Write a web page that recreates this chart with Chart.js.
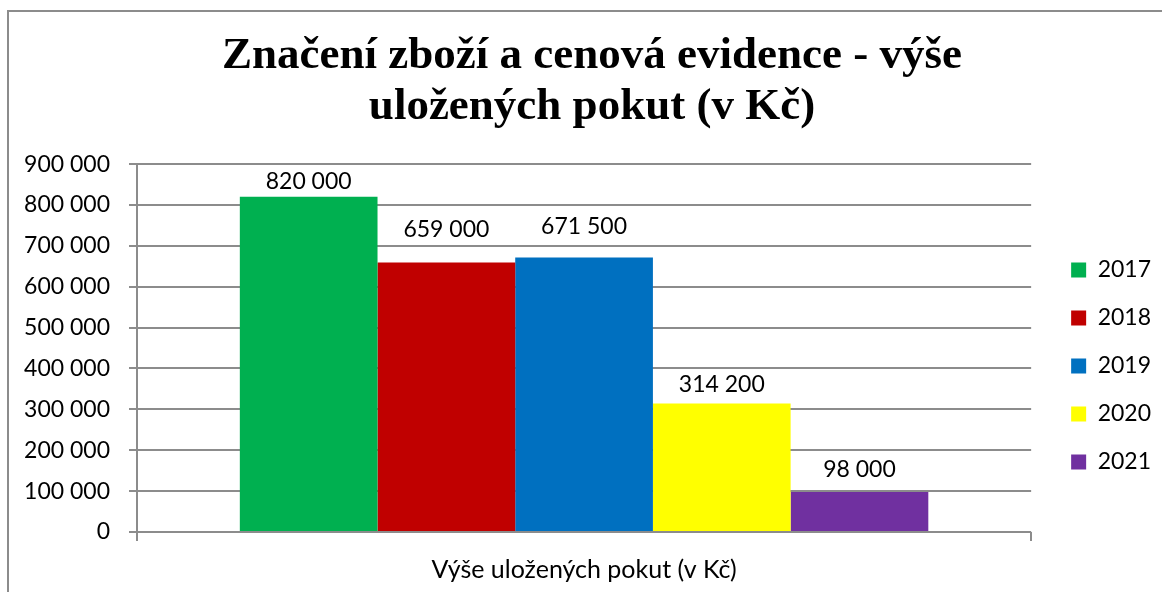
<!DOCTYPE html>
<html>
<head>
<meta charset="utf-8">
<script src="https://cdn.jsdelivr.net/npm/chart.js@4"></script>
<style>
  html, body { margin: 0; padding: 0; background: #fff; }
  #wrap { position: relative; width: 1162px; height: 592px; overflow: hidden; }
  #frame { position: absolute; left: 7px; top: 10px; width: 1200px; height: 700px;
           border-top: 2px solid #8c8c8c; border-left: 2px solid #8c8c8c; }
  canvas { position: absolute; left: 0; top: 0; }
</style>
</head>
<body>
<div id="wrap">
  <div id="frame"></div>
  <canvas id="c" width="1162" height="592"></canvas>
</div>
<script>
const categories = ['Výše uložených pokut (v Kč)'];
const years = ['2017', '2018', '2019', '2020', '2021'];
const values = [820000, 659000, 671500, 314200, 98000];
const yTicks = [0, 100000, 200000, 300000, 400000, 500000, 600000, 700000, 800000, 900000];
const titleLines = ['Značení zboží a cenová evidence - výše', 'uložených pokut (v Kč)'];
const barColors = ['#00B050', '#C00000', '#0070C0', '#FFFF00', '#7030A0'];
const labelLift = [8, 26, 24, 12, 15];

const fmt = v => String(v).replace(/\B(?=(\d{3})+(?!\d))/g, ' ');
const FONT = 'Lato';
const GRID = '#8c8c8c';

const labelPlugin = {
  id: 'barLabels',
  afterDatasetsDraw(chart) {
    const ctx = chart.ctx;
    ctx.save();
    ctx.font = '23px ' + FONT;
    ctx.fillStyle = '#000';
    ctx.textAlign = 'center';
    ctx.textBaseline = 'alphabetic';
    chart.data.datasets.forEach((ds, i) => {
      const meta = chart.getDatasetMeta(i);
      meta.data.forEach((el, j) => {
        ctx.fillText(fmt(ds.data[j]), el.x, el.y - labelLift[i]);
      });
    });
    ctx.restore();
  }
};

const boxShift = {
  id: 'boxShift',
  afterLayout(chart) {
    const lg = chart.legend;
    if (lg) { lg.left += 15; lg.right += 15; lg.top += 70; lg.bottom += 70; }
    const tb = chart.titleBlock;
    if (tb) { tb.left += 19; tb.right += 19; }
  }
};

new Chart(document.getElementById('c'), {
  type: 'bar',
  data: {
    labels: categories,
    datasets: years.map((y, i) => ({
      label: y,
      data: [values[i]],
      backgroundColor: barColors[i],
      borderWidth: 0,
      categoryPercentage: 0.77,
      barPercentage: 1.0
    }))
  },
  options: {
    responsive: false,
    animation: false,
    layout: { padding: { left: 0, right: 16, top: 0, bottom: 0 } },
    plugins: {
      title: {
        display: true,
        text: titleLines,
        color: '#000',
        font: { family: 'Liberation Serif', size: 45, weight: 'bold', lineHeight: 1.14 },
        padding: { top: 30.5, bottom: 31 }
      },
      legend: {
        position: 'right',
        labels: {
          color: '#000',
          font: { family: FONT, size: 23 },
          boxWidth: 15,
          boxHeight: 15,
          padding: 25
        }
      },
      tooltip: { enabled: false }
    },
    scales: {
      x: {
        afterFit(scale) { scale.height = 60; },
        grid: { display: true, drawOnChartArea: false, drawTicks: true, tickLength: 9, color: GRID, lineWidth: 2 },
        border: { display: false },
        ticks: { color: '#000', font: { family: FONT, size: 25 }, padding: 14 }
      },
      y: {
        min: 0,
        max: 900000,
        afterBuildTicks(scale) { scale.ticks = yTicks.map(v => ({ value: v })); },
        afterFit(scale) { scale.width = 137; },
        grid: { color: GRID, lineWidth: 2, tickLength: 8 },
        border: { display: true, color: GRID, width: 2 },
        ticks: { color: '#000', font: { family: FONT, size: 23 }, padding: 19, callback: v => fmt(v) }
      }
    }
  },
  plugins: [labelPlugin, boxShift]
});
</script>
</body>
</html>
